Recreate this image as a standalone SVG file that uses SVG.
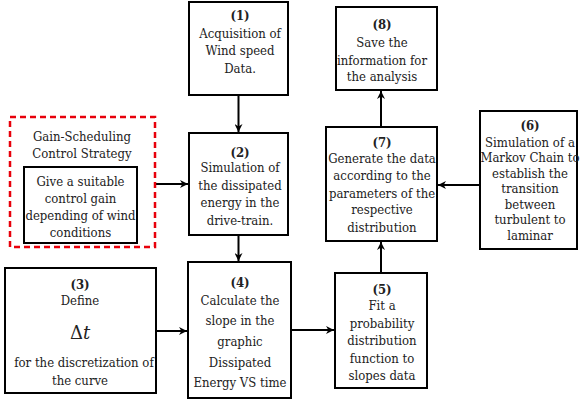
<svg xmlns="http://www.w3.org/2000/svg" width="581" height="401" viewBox="0 0 581 401">
<defs>
<marker id="ah" viewBox="0 0 10 10" refX="10" refY="5" markerWidth="8" markerHeight="8" markerUnits="userSpaceOnUse" orient="auto">
<path d="M0,0 L10,5 L0,10 L3,5 Z" fill="#000"/>
</marker>
</defs>
<style>
.box{fill:#fff;stroke:#000;stroke-width:2}
.dash{fill:none;stroke:#e8000b;stroke-width:2.5;stroke-dasharray:6,4}
.t text{font-size:13px;fill:#222;text-anchor:middle;font-stretch:condensed}
.b{font-weight:bold}
.c{stroke:#000;stroke-width:2;fill:none;marker-end:url(#ah)}
</style>
<rect width="581" height="401" fill="#fff"/>
<g id="connectors">
<line class="c" x1="238.5" y1="95" x2="238.5" y2="132"/>
<line class="c" x1="238.5" y1="235" x2="238.5" y2="261"/>
<line class="c" x1="155" y1="184" x2="188" y2="184"/>
<line class="c" x1="156" y1="331" x2="187" y2="331"/>
<line class="c" x1="291" y1="330" x2="334" y2="330"/>
<line class="c" x1="381" y1="273" x2="381" y2="242"/>
<line class="c" x1="480" y1="185" x2="438" y2="185"/>
<line class="c" x1="381" y1="127" x2="381" y2="91"/>
</g>
<g class="t" font-family="DejaVu Serif Condensed, DejaVu Serif, serif">
<g id="gain-scheduling">
<rect class="dash" x="10" y="117" width="145" height="130"/>
<text x="82" y="141">Gain-Scheduling</text>
<text x="82" y="158">Control Strategy</text>
<rect class="box" x="24" y="167" width="113" height="76"/>
<text x="80.5" y="186">Give a suitable</text>
<text x="80.5" y="203">control gain</text>
<text x="80.5" y="220">depending of wind</text>
<text x="80.5" y="237">conditions</text>
</g>
<g id="n1">
<rect class="box" x="189" y="2" width="99" height="93"/>
<text class="b" x="240" y="20">(1)</text>
<text x="240" y="38">Acquisition of</text>
<text x="240" y="55">Wind speed</text>
<text x="240" y="73">Data.</text>
</g>
<g id="n2">
<rect class="box" x="189" y="133" width="99" height="102"/>
<text class="b" x="240" y="157">(2)</text>
<text x="240" y="172">Simulation of</text>
<text x="240" y="190">the dissipated</text>
<text x="240" y="207">energy in the</text>
<text x="240" y="225">drive-train.</text>
</g>
<g id="n3">
<rect class="box" x="5" y="268" width="151" height="125"/>
<text class="b" x="80" y="289">(3)</text>
<text x="80" y="305">Define</text>
<text x="80" y="339" style="font-size:18px;font-stretch:normal" font-family="DejaVu Serif, serif"><tspan>Δ</tspan><tspan font-style="italic">t</tspan></text>
<text x="84" y="367">for the discretization of</text>
<text x="80" y="385">the curve</text>
</g>
<g id="n4">
<rect class="box" x="188" y="262" width="103" height="136"/>
<text class="b" x="240" y="287">(4)</text>
<text x="240" y="305">Calculate the</text>
<text x="240" y="325">slope in the</text>
<text x="240" y="346">graphic</text>
<text x="240" y="367">Dissipated</text>
<text x="240" y="387">Energy VS time</text>
</g>
<g id="n5">
<rect class="box" x="335" y="273" width="92" height="115"/>
<text class="b" x="382" y="294">(5)</text>
<text x="382" y="310">Fit a</text>
<text x="382" y="328">probability</text>
<text x="382" y="345">distribution</text>
<text x="382" y="363">function to</text>
<text x="382" y="380">slopes data</text>
</g>
<g id="n6">
<rect class="box" x="480" y="111" width="97" height="138"/>
<text class="b" x="530" y="130">(6)</text>
<text x="530" y="147">Simulation of a</text>
<text x="530" y="162">Markov Chain to</text>
<text x="530" y="178">establish the</text>
<text x="530" y="193">transition</text>
<text x="530" y="209">between</text>
<text x="530" y="224">turbulent to</text>
<text x="530" y="240">laminar</text>
</g>
<g id="n7">
<rect class="box" x="326" y="127" width="111" height="114"/>
<text class="b" x="382" y="147">(7)</text>
<text x="382" y="163">Generate the data</text>
<text x="382" y="180">according to the</text>
<text x="382" y="198">parameters of the</text>
<text x="382" y="214">respective</text>
<text x="382" y="232">distribution</text>
</g>
<g id="n8">
<rect class="box" x="336" y="7" width="101" height="83"/>
<text class="b" x="382" y="29">(8)</text>
<text x="382" y="47">Save the</text>
<text x="382" y="65">information for</text>
<text x="382" y="81">the analysis</text>
</g>
</g>
</svg>
